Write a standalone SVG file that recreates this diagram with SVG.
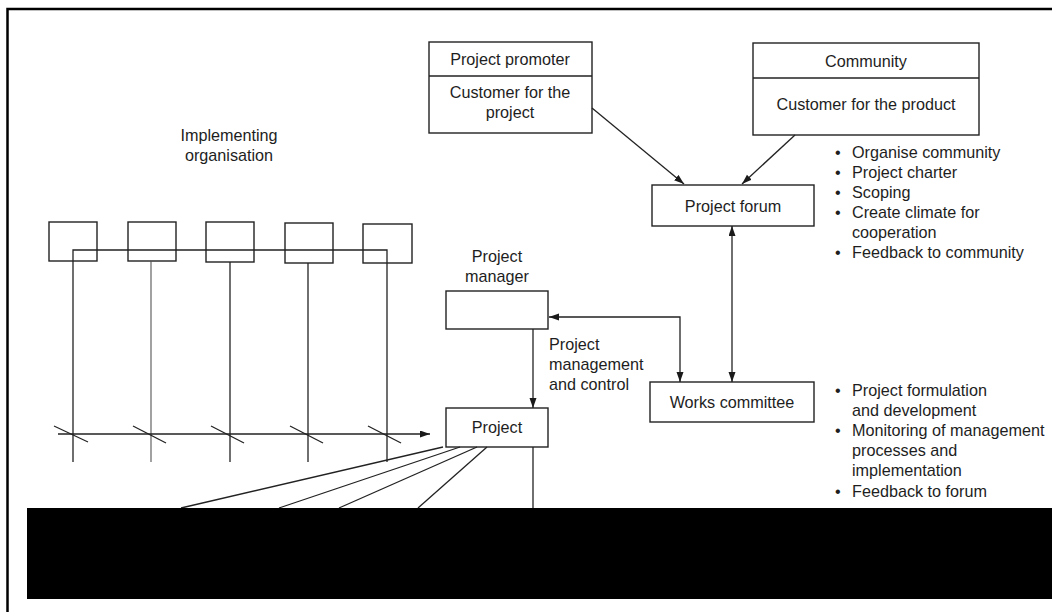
<svg xmlns="http://www.w3.org/2000/svg" width="1052" height="612" viewBox="0 0 1052 612">
  <defs>
    <marker id="ah" markerUnits="userSpaceOnUse" markerWidth="11" markerHeight="8" refX="10" refY="3.5" orient="auto-start-reverse">
      <path d="M0,0 L10,3.5 L0,7 z" fill="#1a1a1a"/>
    </marker>
    <style>
      .box{fill:none;stroke:#222;stroke-width:1.4}
      .ln{fill:none;stroke:#222;stroke-width:1.3}
      .lt{fill:none;stroke:#555;stroke-width:1.1}
      .t{font-family:"Liberation Sans",Arial,sans-serif;font-size:16.2px;fill:#1e1e1e}
      .c{text-anchor:middle}
    </style>
  </defs>
  <rect width="1052" height="612" fill="#fff"/>
  <!-- frame -->
  <path d="M7.5,612 V9 H1052" fill="none" stroke="#000" stroke-width="2.5"/>

  <g id="promoter">
    <rect class="box" x="429" y="42" width="163" height="91"/>
    <line class="ln" x1="429" y1="76" x2="592" y2="76"/>
    <text class="t c" x="510" y="65">Project promoter</text>
    <text class="t c" x="510" y="98">Customer for the</text>
    <text class="t c" x="510" y="118">project</text>
  </g>
  <g id="community">
    <rect class="box" x="753" y="43" width="226" height="92"/>
    <line class="ln" x1="753" y1="78" x2="979" y2="78"/>
    <text class="t c" x="866" y="67">Community</text>
    <text class="t c" x="866" y="110">Customer for the product</text>
  </g>
  <g id="forum">
    <rect class="box" x="652" y="185" width="162" height="41"/>
    <text class="t c" x="733" y="212">Project forum</text>
  </g>
  <g id="forum-notes">
    <text class="t" x="835" y="158">•</text><text class="t" x="852" y="158">Organise community</text>
    <text class="t" x="835" y="178">•</text><text class="t" x="852" y="178">Project charter</text>
    <text class="t" x="835" y="198">•</text><text class="t" x="852" y="198">Scoping</text>
    <text class="t" x="835" y="218">•</text><text class="t" x="852" y="218">Create climate for</text>
    <text class="t" x="852" y="238">cooperation</text>
    <text class="t" x="835" y="258">•</text><text class="t" x="852" y="258">Feedback to community</text>
  </g>
  <g id="impl-label">
    <text class="t c" x="229" y="141">Implementing</text>
    <text class="t c" x="229" y="161">organisation</text>
  </g>
  <g id="org-units">
    <rect class="box" x="49" y="222" width="48" height="39"/>
    <rect class="box" x="128" y="222" width="48" height="39"/>
    <rect class="box" x="206" y="222" width="48" height="40"/>
    <rect class="box" x="285" y="223" width="48" height="40"/>
    <rect class="box" x="363" y="224" width="49" height="39"/>
  </g>
  <g id="pm">
    <text class="t c" x="497" y="262">Project</text>
    <text class="t c" x="497" y="282">manager</text>
    <rect class="box" x="446" y="291" width="102" height="38"/>
  </g>
  <g id="pm-label">
    <text class="t" x="549" y="350">Project</text>
    <text class="t" x="549" y="370">management</text>
    <text class="t" x="549" y="390">and control</text>
  </g>
  <g id="project">
    <rect class="box" x="446" y="408" width="102" height="39"/>
    <text class="t c" x="497" y="433">Project</text>
  </g>
  <g id="works">
    <rect class="box" x="650" y="382" width="164" height="40"/>
    <text class="t c" x="732" y="408">Works committee</text>
  </g>
  <g id="works-notes">
    <text class="t" x="835" y="396">•</text><text class="t" x="852" y="396">Project formulation</text>
    <text class="t" x="852" y="416">and development</text>
    <text class="t" x="835" y="436">•</text><text class="t" x="852" y="436">Monitoring of management</text>
    <text class="t" x="852" y="456">processes and</text>
    <text class="t" x="852" y="476">implementation</text>
    <text class="t" x="835" y="497">•</text><text class="t" x="852" y="497">Feedback to forum</text>
  </g>

  <g id="connectors">
    <line class="ln" x1="592" y1="108" x2="684" y2="184" marker-end="url(#ah)"/>
    <line class="ln" x1="795" y1="135" x2="742" y2="184" marker-end="url(#ah)"/>
    <line class="ln" x1="732" y1="226" x2="732" y2="382" marker-start="url(#ah)" marker-end="url(#ah)"/>
    <path class="ln" d="M549,317 H680 V382" marker-start="url(#ah)" marker-end="url(#ah)"/>
    <line class="ln" x1="533" y1="329" x2="533" y2="408" marker-end="url(#ah)"/>
    <!-- org structure -->
    <path class="ln" d="M73,462 V250 H387 V462"/>
    <line class="lt" x1="151" y1="261" x2="151" y2="462"/>
    <line class="ln" x1="230" y1="262" x2="230" y2="462"/>
    <line class="ln" x1="308" y1="263" x2="308" y2="462"/>
    <line class="ln" x1="58" y1="434" x2="430" y2="434" marker-end="url(#ah)"/>
    <g class="ln">
      <line x1="54" y1="426" x2="88" y2="442"/>
      <line x1="133" y1="426" x2="166" y2="443"/>
      <line x1="211" y1="426" x2="244" y2="443"/>
      <line x1="290" y1="426" x2="323" y2="443"/>
      <line x1="368" y1="426" x2="401" y2="443"/>
    </g>
    <!-- fan from project -->
    <line class="ln" x1="443" y1="447" x2="181" y2="508"/>
    <line class="ln" x1="460" y1="447" x2="279" y2="508"/>
    <line class="ln" x1="477" y1="447" x2="339" y2="508"/>
    <line class="ln" x1="487" y1="447" x2="418" y2="508"/>
    <line class="ln" x1="533" y1="447" x2="533" y2="508"/>
  </g>
  <rect x="27" y="508" width="1025" height="91" fill="#000"/>
</svg>
